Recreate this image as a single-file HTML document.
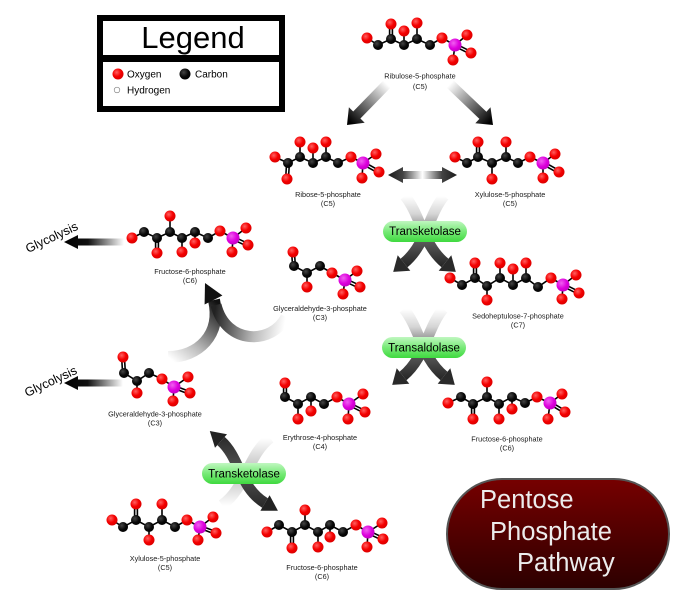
<!DOCTYPE html>
<html><head><meta charset="utf-8"><style>
html,body{margin:0;padding:0;background:#fff;}
svg{display:block;}
text{font-family:"Liberation Sans",Arial,sans-serif;}
.bd{stroke:#000;stroke-width:1.6;fill:none;}
.lb{font-size:7.3px;fill:#1a1a1a;text-anchor:middle;}
.en{font-size:11.5px;fill:#000;text-anchor:middle;}
</style></head><body>
<svg width="676" height="599" viewBox="0 0 676 599" xmlns="http://www.w3.org/2000/svg">
<defs>
<radialGradient id="gO" cx="0.38" cy="0.35" r="0.7"><stop offset="0" stop-color="#ff6060"/><stop offset="0.55" stop-color="#f40000"/><stop offset="1" stop-color="#d80000"/></radialGradient>
<radialGradient id="gC" cx="0.38" cy="0.35" r="0.7"><stop offset="0" stop-color="#444"/><stop offset="0.6" stop-color="#080808"/><stop offset="1" stop-color="#000"/></radialGradient>
<radialGradient id="gP" cx="0.38" cy="0.35" r="0.7"><stop offset="0" stop-color="#f060f0"/><stop offset="0.6" stop-color="#dd00dd"/><stop offset="1" stop-color="#c000c0"/></radialGradient>
<linearGradient id="gG" x1="0" y1="0" x2="0" y2="1"><stop offset="0" stop-color="#c0f7c0"/><stop offset="0.5" stop-color="#78ea78"/><stop offset="1" stop-color="#3fd93f"/></linearGradient>
<linearGradient id="gRed" x1="0" y1="0" x2="0" y2="1"><stop offset="0" stop-color="#760000"/><stop offset="1" stop-color="#2c0000"/></linearGradient>
<linearGradient id="gRL" gradientUnits="userSpaceOnUse" x1="387" y1="84" x2="350" y2="122"><stop offset="0" stop-color="#fff"/><stop offset="0.2" stop-color="#ccc"/><stop offset="1" stop-color="#000"/></linearGradient>
<linearGradient id="gRR" gradientUnits="userSpaceOnUse" x1="450" y1="84" x2="490" y2="122"><stop offset="0" stop-color="#fff"/><stop offset="0.2" stop-color="#ccc"/><stop offset="1" stop-color="#000"/></linearGradient>
<linearGradient id="gDbl" x1="0" y1="0" x2="1" y2="0"><stop offset="0" stop-color="#1a1a1a"/><stop offset="0.22" stop-color="#444"/><stop offset="0.5" stop-color="#fff"/><stop offset="0.78" stop-color="#444"/><stop offset="1" stop-color="#1a1a1a"/></linearGradient>
<linearGradient id="gGly" x1="0" y1="0" x2="1" y2="0"><stop offset="0" stop-color="#000"/><stop offset="0.4" stop-color="#111"/><stop offset="1" stop-color="#fff"/></linearGradient>
<linearGradient id="gTK1" gradientUnits="userSpaceOnUse" x1="0" y1="196" x2="0" y2="268"><stop offset="0" stop-color="#fff"/><stop offset="0.25" stop-color="#d5d5d5"/><stop offset="0.55" stop-color="#666"/><stop offset="1" stop-color="#222"/></linearGradient>
<linearGradient id="gFL" gradientUnits="userSpaceOnUse" x1="168" y1="357" x2="214" y2="300"><stop offset="0" stop-color="#fff"/><stop offset="0.35" stop-color="#bbb"/><stop offset="1" stop-color="#111"/></linearGradient>
<linearGradient id="gFR" gradientUnits="userSpaceOnUse" x1="286" y1="317" x2="216" y2="305"><stop offset="0" stop-color="#fff"/><stop offset="0.4" stop-color="#bbb"/><stop offset="1" stop-color="#222"/></linearGradient>
<linearGradient id="gTK2d" gradientUnits="userSpaceOnUse" x1="0" y1="430" x2="0" y2="512"><stop offset="0" stop-color="#222"/><stop offset="0.5" stop-color="#555"/><stop offset="1" stop-color="#222"/></linearGradient>
<linearGradient id="gTK2l" gradientUnits="userSpaceOnUse" x1="0" y1="438" x2="0" y2="506"><stop offset="0" stop-color="#fff"/><stop offset="0.5" stop-color="#bbb"/><stop offset="1" stop-color="#fff"/></linearGradient>
</defs>

<!-- Legend -->
<rect x="97" y="15" width="188" height="97" fill="#000"/>
<rect x="103" y="21" width="176" height="34" fill="#fff"/>
<rect x="103" y="62" width="176" height="44" fill="#fff"/>
<text x="193" y="48" font-size="31" text-anchor="middle" fill="#000">Legend</text>
<circle cx="118" cy="74" r="5.5" fill="url(#gO)"/>
<text x="127" y="77.5" font-size="10" fill="#000">Oxygen</text>
<circle cx="185" cy="74" r="5.5" fill="url(#gC)"/>
<text x="195" y="77.5" font-size="10" fill="#000">Carbon</text>
<circle cx="117" cy="90" r="2.8" fill="#fff" stroke="#777" stroke-width="0.6"/>
<text x="127" y="93.5" font-size="10" fill="#000">Hydrogen</text>

<!-- Ribulose arrows -->
<polygon points="390.6,87.5 360.4,118.5 364.7,122.7 347,125 348.9,107.3 353.2,111.5 383.4,80.5" fill="url(#gRL)"/>
<polygon points="446.6,87.6 479.4,118.9 475.3,123.3 493,125 490.5,107.3 486.4,111.7 453.5,80.4" fill="url(#gRR)"/>

<!-- double arrow -->
<polygon points="388,175 403,167 403,171 442,171 442,167 457,175 442,183 442,179 403,179 403,183" fill="url(#gDbl)"/>

<!-- Glycolysis arrows -->
<polygon points="64,242 78,235 78,238.5 124,238.5 124,245.5 78,245.5 78,249" fill="url(#gGly)"/>
<polygon points="64,383 78,376 78,379.5 123,379.5 123,386.5 78,386.5 78,390" fill="url(#gGly)"/>
<text x="52" y="241.5" font-size="12.5" text-anchor="middle" fill="#000" transform="rotate(-25 52 238)">Glycolysis</text>
<text x="51" y="385.5" font-size="12.5" text-anchor="middle" fill="#000" transform="rotate(-25 51 382)">Glycolysis</text>

<!-- Transketolase 1 crossing -->
<g>
<path d="M405,196 C421,216 423,245 445,263" stroke="url(#gTK1)" stroke-width="11" fill="none"/>
<path d="M444,196 C428,216 426,245 404,263" stroke="url(#gTK1)" stroke-width="11" fill="none"/>
<polygon points="438.7,270.7 451.3,255.3 455.8,271.9" fill="#2a2a2a"/>
<polygon points="410.3,270.7 397.7,255.3 393.2,271.9" fill="#2a2a2a"/>
</g>
<!-- Transaldolase crossing -->
<g transform="translate(-1,113)">
<path d="M405,196 C421,216 423,245 445,263" stroke="url(#gTK1)" stroke-width="11" fill="none"/>
<path d="M444,196 C428,216 426,245 404,263" stroke="url(#gTK1)" stroke-width="11" fill="none"/>
<polygon points="438.7,270.7 451.3,255.3 455.8,271.9" fill="#2a2a2a"/>
<polygon points="410.3,270.7 397.7,255.3 393.2,271.9" fill="#2a2a2a"/>
</g>

<!-- Fan arrow to Fructose -->
<path d="M168,357 C198,357 222,335 214,300" stroke="url(#gFL)" stroke-width="12" fill="none"/>
<path d="M286,317 C272,345 226,345 216,305" stroke="url(#gFR)" stroke-width="11" fill="none"/>
<polygon points="205,283 222.4,295.5 204.6,304.5" fill="#111"/>

<!-- Transketolase 2 crossing -->
<path d="M270,438 C248,455 246,488 222,505" stroke="url(#gTK2l)" stroke-width="11" fill="none"/>
<path d="M221,441 C240,458 240,488 265,503" stroke="url(#gTK2d)" stroke-width="11" fill="none"/>
<polygon points="209.8,431 227,434.3 215,447.7" fill="#222"/>
<polygon points="277.9,510.7 260.4,510.7 269.6,495.3" fill="#222"/>

<!-- enzyme pills -->
<rect x="383" y="221" width="84" height="21" rx="10.5" fill="url(#gG)"/>
<text class="en" x="425" y="235">Transketolase</text>
<rect x="382" y="337" width="84" height="21" rx="10.5" fill="url(#gG)"/>
<text class="en" x="424" y="351.5">Transaldolase</text>
<rect x="202" y="463" width="84" height="21" rx="10.5" fill="url(#gG)"/>
<text class="en" x="244" y="477.5">Transketolase</text>

<!-- Pentose Phosphate Pathway -->
<rect x="447" y="479" width="222" height="110" rx="55" fill="url(#gRed)" stroke="#555" stroke-width="2"/>
<text x="480" y="508" font-size="25.5" fill="#ececec">Pentose</text>
<text x="490" y="540" font-size="25.5" fill="#ececec">Phosphate</text>
<text x="517" y="571" font-size="25.5" fill="#ececec">Pathway</text>

<!-- M1 Ribulose-5-phosphate -->
<polyline class="bd" points="367,38 378,45 391,39 404,45 417,39 430,45 442,38 455,45"/>
<path class="bd" d="M389.6,39V24 M392.4,39V24 M404,45V31 M417,39V23 M455,45L467,35 M455,45L453,60 M455.6,43.8L471.6,51.8 M454.4,46.2L470.4,54.2"/>
<g fill="url(#gC)"><circle cx="378" cy="45" r="5"/><circle cx="391" cy="39" r="5"/><circle cx="404" cy="45" r="5"/><circle cx="417" cy="39" r="5"/><circle cx="430" cy="45" r="5"/></g>
<g fill="url(#gO)"><circle cx="367" cy="38" r="5.5"/><circle cx="391" cy="24" r="5.5"/><circle cx="404" cy="31" r="5.5"/><circle cx="417" cy="23" r="5.5"/><circle cx="442" cy="38" r="5.5"/><circle cx="467" cy="35" r="5.5"/><circle cx="471" cy="53" r="5.5"/><circle cx="453" cy="60" r="5.5"/></g>
<circle cx="455" cy="45" r="6.5" fill="url(#gP)"/>
<text class="lb" x="420" y="78.5">Ribulose-5-phosphate</text>
<text class="lb" x="420" y="89">(C5)</text>

<!-- M2 Ribose-5-phosphate -->
<polyline class="bd" points="275,157 288,163 300,157 313,163 326,157 338,163 351,157 363,163"/>
<path class="bd" d="M286.6,163L285.6,179 M289.4,163L288.4,179 M300,157V142 M313,163V148 M326,157V142 M363,163L376,154 M363,163L362,178 M363.7,161.8L379.7,170.8 M362.3,164.2L378.3,173.2"/>
<g fill="url(#gC)"><circle cx="288" cy="163" r="5"/><circle cx="300" cy="157" r="5"/><circle cx="313" cy="163" r="5"/><circle cx="326" cy="157" r="5"/><circle cx="338" cy="163" r="5"/></g>
<g fill="url(#gO)"><circle cx="275" cy="157" r="5.5"/><circle cx="287" cy="179" r="5.5"/><circle cx="300" cy="142" r="5.5"/><circle cx="313" cy="148" r="5.5"/><circle cx="326" cy="142" r="5.5"/><circle cx="351" cy="157" r="5.5"/><circle cx="376" cy="154" r="5.5"/><circle cx="379" cy="172" r="5.5"/><circle cx="362" cy="178" r="5.5"/></g>
<circle cx="363" cy="163" r="6.5" fill="url(#gP)"/>
<text class="lb" x="328" y="197">Ribose-5-phosphate</text>
<text class="lb" x="328" y="206">(C5)</text>

<!-- M3 Xylulose-5-phosphate top -->
<polyline class="bd" points="455,157 467,163 478,157 492,163 506,157 518,163 530,157 543,163"/>
<path class="bd" d="M476.6,157V142 M479.4,157V142 M492,163V179 M506,157V142 M543,163L555,154 M543,163V178 M543.7,161.8L559.7,170.8 M542.3,164.2L558.3,173.2"/>
<g fill="url(#gC)"><circle cx="467" cy="163" r="5"/><circle cx="478" cy="157" r="5"/><circle cx="492" cy="163" r="5"/><circle cx="506" cy="157" r="5"/><circle cx="518" cy="163" r="5"/></g>
<g fill="url(#gO)"><circle cx="455" cy="157" r="5.5"/><circle cx="478" cy="142" r="5.5"/><circle cx="492" cy="179" r="5.5"/><circle cx="506" cy="142" r="5.5"/><circle cx="530" cy="157" r="5.5"/><circle cx="555" cy="154" r="5.5"/><circle cx="559" cy="172" r="5.5"/><circle cx="543" cy="178" r="5.5"/></g>
<circle cx="543" cy="163" r="6.5" fill="url(#gP)"/>
<text class="lb" x="510" y="197">Xylulose-5-phosphate</text>
<text class="lb" x="510" y="206">(C5)</text>

<!-- M4 Fructose-6-phosphate top-left -->
<polyline class="bd" points="132,238 144,232 157,238 170,232 182,238 195,232 208,238 220,231 233,238"/>
<path class="bd" d="M155.6,238V253 M158.4,238V253 M170,232V216 M182,238V252 M195,232V243 M233,238L246,228 M233,238L232,252 M233.6,236.7L248.6,243.7 M232.4,239.3L247.4,246.3"/>
<g fill="url(#gC)"><circle cx="144" cy="232" r="5"/><circle cx="157" cy="238" r="5"/><circle cx="170" cy="232" r="5"/><circle cx="182" cy="238" r="5"/><circle cx="195" cy="232" r="5"/><circle cx="208" cy="238" r="5"/></g>
<g fill="url(#gO)"><circle cx="132" cy="238" r="5.5"/><circle cx="157" cy="253" r="5.5"/><circle cx="170" cy="216" r="5.5"/><circle cx="182" cy="252" r="5.5"/><circle cx="195" cy="243" r="5.5"/><circle cx="220" cy="231" r="5.5"/><circle cx="246" cy="228" r="5.5"/><circle cx="248" cy="245" r="5.5"/><circle cx="232" cy="252" r="5.5"/></g>
<circle cx="233" cy="238" r="6.5" fill="url(#gP)"/>
<text class="lb" x="190" y="274">Fructose-6-phosphate</text>
<text class="lb" x="190" y="283">(C6)</text>

<!-- M5 G3P mid -->
<path class="bd" d="M291.6,252L292.6,266 M294.4,252L295.4,266"/>
<polyline class="bd" points="294,266 307,273 320,266 332,273 345,280"/>
<path class="bd" d="M307,273V287 M345,280L357,271 M345,280L343,294 M345.6,278.7L360.6,285.7 M344.4,281.3L359.4,288.3"/>
<g fill="url(#gC)"><circle cx="294" cy="266" r="5"/><circle cx="307" cy="273" r="5"/><circle cx="320" cy="266" r="5"/></g>
<g fill="url(#gO)"><circle cx="293" cy="252" r="5.5"/><circle cx="307" cy="287" r="5.5"/><circle cx="332" cy="273" r="5.5"/><circle cx="357" cy="271" r="5.5"/><circle cx="360" cy="287" r="5.5"/><circle cx="343" cy="294" r="5.5"/></g>
<circle cx="345" cy="280" r="6.5" fill="url(#gP)"/>
<text class="lb" x="320" y="311">Glyceraldehyde-3-phosphate</text>
<text class="lb" x="320" y="320">(C3)</text>

<!-- M6 Sedoheptulose-7-phosphate -->
<polyline class="bd" points="450,278 462,285 475,278 487,286 500,278 513,285 526,278 538,287 551,278 563,285"/>
<path class="bd" d="M473.6,278V263 M476.4,278V263 M487,286V300 M500,278V263 M513,285V269 M526,278V263 M563,285L576,275 M563,285L562,299 M563.6,283.8L579.6,291.8 M562.4,286.2L578.4,294.2"/>
<g fill="url(#gC)"><circle cx="462" cy="285" r="5"/><circle cx="475" cy="278" r="5"/><circle cx="487" cy="286" r="5"/><circle cx="500" cy="278" r="5"/><circle cx="513" cy="285" r="5"/><circle cx="526" cy="278" r="5"/><circle cx="538" cy="287" r="5"/></g>
<g fill="url(#gO)"><circle cx="450" cy="278" r="5.5"/><circle cx="475" cy="263" r="5.5"/><circle cx="487" cy="300" r="5.5"/><circle cx="500" cy="263" r="5.5"/><circle cx="513" cy="269" r="5.5"/><circle cx="526" cy="263" r="5.5"/><circle cx="551" cy="278" r="5.5"/><circle cx="576" cy="275" r="5.5"/><circle cx="579" cy="293" r="5.5"/><circle cx="562" cy="299" r="5.5"/></g>
<circle cx="563" cy="285" r="6.5" fill="url(#gP)"/>
<text class="lb" x="518" y="318.5">Sedoheptulose-7-phosphate</text>
<text class="lb" x="518" y="327.5">(C7)</text>

<!-- M7 G3P lower-left -->
<path class="bd" d="M121.6,357L122.6,373 M124.4,357L125.4,373"/>
<polyline class="bd" points="124,373 137,381 149,373 162,379 174,387"/>
<path class="bd" d="M137,381V393 M174,387L188,377 M174,387L173,401 M174.5,385.7L190.5,391.7 M173.5,388.3L189.5,394.3"/>
<g fill="url(#gC)"><circle cx="124" cy="373" r="5"/><circle cx="137" cy="381" r="5"/><circle cx="149" cy="373" r="5"/></g>
<g fill="url(#gO)"><circle cx="123" cy="357" r="5.5"/><circle cx="137" cy="393" r="5.5"/><circle cx="162" cy="379" r="5.5"/><circle cx="188" cy="377" r="5.5"/><circle cx="190" cy="393" r="5.5"/><circle cx="173" cy="401" r="5.5"/></g>
<circle cx="174" cy="387" r="6.5" fill="url(#gP)"/>
<text class="lb" x="155" y="416.5">Glyceraldehyde-3-phosphate</text>
<text class="lb" x="155" y="425.5">(C3)</text>

<!-- M8 Erythrose-4-phosphate -->
<path class="bd" d="M283.6,383V397 M286.4,383V397"/>
<polyline class="bd" points="285,397 298,404 311,397 324,404 337,397 349,404"/>
<path class="bd" d="M298,404V419 M311,397V411 M349,404L363,394 M349,404L348,419 M349.6,402.8L365.6,410.8 M348.4,405.2L364.4,413.2"/>
<g fill="url(#gC)"><circle cx="285" cy="397" r="5"/><circle cx="298" cy="404" r="5"/><circle cx="311" cy="397" r="5"/><circle cx="324" cy="404" r="5"/></g>
<g fill="url(#gO)"><circle cx="285" cy="383" r="5.5"/><circle cx="298" cy="419" r="5.5"/><circle cx="311" cy="411" r="5.5"/><circle cx="337" cy="397" r="5.5"/><circle cx="363" cy="394" r="5.5"/><circle cx="365" cy="412" r="5.5"/><circle cx="348" cy="419" r="5.5"/></g>
<circle cx="349" cy="404" r="6.5" fill="url(#gP)"/>
<text class="lb" x="320" y="440">Erythrose-4-phosphate</text>
<text class="lb" x="320" y="449">(C4)</text>

<!-- M9 Fructose-6-phosphate mid-right -->
<polyline class="bd" points="448,403 461,397 473,404 487,397 499,404 512,397 525,403 537,397 550,403"/>
<path class="bd" d="M471.6,404V419 M474.4,404V419 M487,397V382 M499,404V419 M512,397V409 M550,403L562,394 M550,403L548,419 M550.7,401.8L565.7,410.8 M549.3,404.2L564.3,413.2"/>
<g fill="url(#gC)"><circle cx="461" cy="397" r="5"/><circle cx="473" cy="404" r="5"/><circle cx="487" cy="397" r="5"/><circle cx="499" cy="404" r="5"/><circle cx="512" cy="397" r="5"/><circle cx="525" cy="403" r="5"/></g>
<g fill="url(#gO)"><circle cx="448" cy="403" r="5.5"/><circle cx="473" cy="419" r="5.5"/><circle cx="487" cy="382" r="5.5"/><circle cx="499" cy="419" r="5.5"/><circle cx="512" cy="409" r="5.5"/><circle cx="537" cy="397" r="5.5"/><circle cx="562" cy="394" r="5.5"/><circle cx="565" cy="412" r="5.5"/><circle cx="548" cy="419" r="5.5"/></g>
<circle cx="550" cy="403" r="6.5" fill="url(#gP)"/>
<text class="lb" x="507" y="441.5">Fructose-6-phosphate</text>
<text class="lb" x="507" y="450.5">(C6)</text>

<!-- M10 Xylulose-5-phosphate bottom -->
<polyline class="bd" points="112,520 123,527 136,520 149,527 162,520 175,527 187,520 200,527"/>
<path class="bd" d="M134.6,520V504 M137.4,520V504 M149,527V540 M162,520V504 M200,527L213,517 M200,527L198,540 M200.5,525.7L216.5,531.7 M199.5,528.3L215.5,534.3"/>
<g fill="url(#gC)"><circle cx="123" cy="527" r="5"/><circle cx="136" cy="520" r="5"/><circle cx="149" cy="527" r="5"/><circle cx="162" cy="520" r="5"/><circle cx="175" cy="527" r="5"/></g>
<g fill="url(#gO)"><circle cx="112" cy="520" r="5.5"/><circle cx="136" cy="504" r="5.5"/><circle cx="149" cy="540" r="5.5"/><circle cx="162" cy="504" r="5.5"/><circle cx="187" cy="520" r="5.5"/><circle cx="213" cy="517" r="5.5"/><circle cx="216" cy="533" r="5.5"/><circle cx="198" cy="540" r="5.5"/></g>
<circle cx="200" cy="527" r="6.5" fill="url(#gP)"/>
<text class="lb" x="165" y="561">Xylulose-5-phosphate</text>
<text class="lb" x="165" y="570">(C5)</text>

<!-- M11 Fructose-6-phosphate bottom -->
<polyline class="bd" points="267,532 279,525 292,532 305,525 318,532 330,525 343,532 356,525 368,532"/>
<path class="bd" d="M290.6,532V548 M293.4,532V548 M305,525V510 M318,532V547 M330,525V537 M368,532L382,523 M368,532L367,547 M368.6,530.7L383.6,537.7 M367.4,533.3L382.4,540.3"/>
<g fill="url(#gC)"><circle cx="279" cy="525" r="5"/><circle cx="292" cy="532" r="5"/><circle cx="305" cy="525" r="5"/><circle cx="318" cy="532" r="5"/><circle cx="330" cy="525" r="5"/><circle cx="343" cy="532" r="5"/></g>
<g fill="url(#gO)"><circle cx="267" cy="532" r="5.5"/><circle cx="292" cy="548" r="5.5"/><circle cx="305" cy="510" r="5.5"/><circle cx="318" cy="547" r="5.5"/><circle cx="330" cy="537" r="5.5"/><circle cx="356" cy="525" r="5.5"/><circle cx="382" cy="523" r="5.5"/><circle cx="383" cy="539" r="5.5"/><circle cx="367" cy="547" r="5.5"/></g>
<circle cx="368" cy="532" r="6.5" fill="url(#gP)"/>
<text class="lb" x="322" y="570">Fructose-6-phosphate</text>
<text class="lb" x="322" y="579">(C6)</text>
</svg>
</body></html>
